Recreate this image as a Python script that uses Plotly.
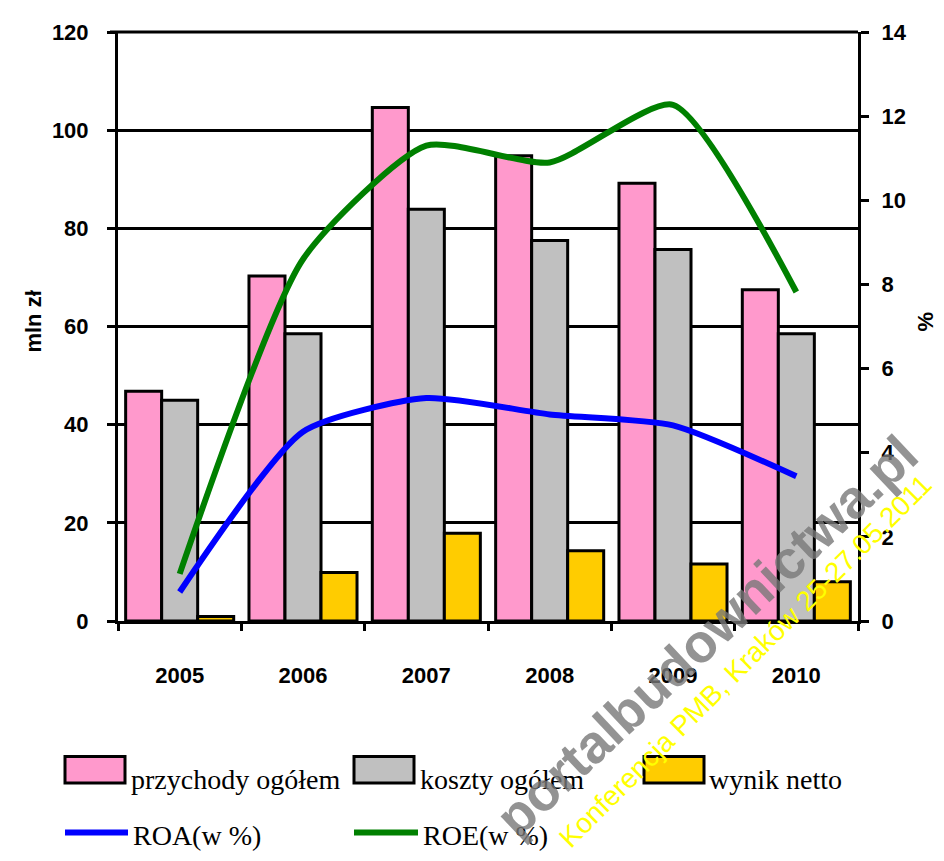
import plotly.graph_objects as go

# ---- data ----
years = ["2005", "2006", "2007", "2008", "2009", "2010"]
przychody = [46.8, 70.3, 104.6, 94.8, 89.2, 67.5]
koszty = [45.0, 58.5, 83.9, 77.5, 75.7, 58.5]
wynik = [0.9, 9.9, 17.9, 14.3, 11.6, 8.0]
roa = [0.69, 4.5, 5.3, 4.91, 4.65, 3.44]
roe = [1.12, 8.6, 11.3, 10.9, 12.27, 7.82]

bar_names = ["przychody ogółem", "koszty ogółem", "wynik netto"]
line_names = ["ROA(w %)", "ROE(w %)"]
bar_colors = ["#FF99CC", "#C0C0C0", "#FFCC00"]
line_colors = ["#0000FF", "#008000"]

left_ticks = [0, 20, 40, 60, 80, 100, 120]
right_ticks = [0, 2, 4, 6, 8, 10, 12, 14]

# ---- geometry (page pixels; the page body has an 8px margin) ----
OFF = 8
W, H = 944 - OFF, 861 - OFF
L, R, T, B = 118, 858, 25, 621   # plot area in page pixels


def px(x):
    return (x - L) / (R - L)


def py(y):
    return (B - y) / (B - T)


TICKFONT = dict(family="Liberation Sans, Arial, sans-serif", size=22, color="black", weight="bold")
LEGFONT = dict(family="Liberation Serif, Times New Roman, serif", size=28, color="black")

fig = go.Figure()

for name, vals, col in zip(bar_names, [przychody, koszty, wynik], bar_colors):
    fig.add_trace(go.Bar(x=years, y=vals, name=name, marker=dict(color=col, line=dict(color="black", width=3)),
                         yaxis="y", showlegend=False))

for name, vals, col in zip(line_names, [roa, roe], line_colors):
    fig.add_trace(go.Scatter(x=years, y=vals, name=name, mode="lines",
                             line=dict(color=col, width=6, shape="spline", smoothing=0.6),
                             yaxis="y2", showlegend=False))

shapes = []
annotations = []

# top gridline (at 120) with its tick stub
shapes.append(dict(type="line", xref="paper", yref="paper", x0=px(110), x1=1, y0=1, y1=1,
                   line=dict(color="black", width=3), layer="below"))

# custom legend
row1 = [(65, 125, 129), (354, 414, 418), (644, 704, 707)]
for (x0, x1, tx), name, col in zip(row1, bar_names, bar_colors):
    shapes.append(dict(type="rect", xref="paper", yref="paper", x0=px(x0), x1=px(x1), y0=py(785), y1=py(758),
                       fillcolor=col, line=dict(color="black", width=3)))
    annotations.append(dict(text=name, xref="paper", yref="paper", x=px(tx), y=py(781), xanchor="left",
                            yanchor="middle", showarrow=False, font=LEGFONT))
row2 = [(65, 128, 131), (354, 418, 421)]
for (x0, x1, tx), name, col in zip(row2, line_names, line_colors):
    shapes.append(dict(type="line", xref="paper", yref="paper", x0=px(x0), x1=px(x1), y0=py(835), y1=py(835),
                       line=dict(color=col, width=6)))
    annotations.append(dict(text=name, xref="paper", yref="paper", x=px(tx), y=py(838), xanchor="left",
                            yanchor="middle", showarrow=False, font=LEGFONT))

# axis titles
annotations.append(dict(text="mln zł", xref="paper", yref="paper", x=px(34), y=py(318), textangle=-90,
                        xanchor="center", yanchor="middle", showarrow=False, font=TICKFONT))
annotations.append(dict(text="%", xref="paper", yref="paper", x=px(926), y=py(318), textangle=-90,
                        xanchor="center", yanchor="middle", showarrow=False, font=TICKFONT))

# watermarks (kept inside the page)
annotations.append(dict(text="portalbudownictwa.pl", xref="paper", yref="paper", x=px(706), y=py(636),
                        xanchor="center", yanchor="middle", textangle=-43.3, showarrow=False,
                        font=dict(family="Liberation Sans, Arial, sans-serif", size=54, weight="bold",
                                  color="rgba(120,120,120,0.8)")))
annotations.append(dict(text="Konferencja PMB, Kraków 25-27.05.2011", xref="paper", yref="paper",
                        x=px(745), y=py(662), xanchor="center", yanchor="middle", textangle=-45,
                        showarrow=False,
                        font=dict(family="Liberation Sans, Arial, sans-serif", size=28, color="#FFFF00")))

fig.update_layout(
    width=W, height=H,
    margin=dict(l=L - OFF, r=W - (R - OFF), t=T - OFF, b=H - (B - OFF), pad=0),
    paper_bgcolor="white", plot_bgcolor="white",
    barmode="group", bargap=0.124, bargroupgap=0,
    shapes=shapes, annotations=annotations,
    xaxis=dict(type="category", showline=True, linecolor="black", linewidth=3,
               ticks="outside", tickson="boundaries", ticklen=7, tickwidth=3, tickcolor="black",
               tickfont=TICKFONT, ticklabelstandoff=33, showgrid=False, zeroline=False),
    yaxis=dict(range=[0, 120], tickvals=left_ticks, showline=True, linecolor="black", linewidth=3,
               ticks="outside", ticklen=8, tickwidth=3, tickcolor="black", tickfont=TICKFONT,
               ticklabelstandoff=14, showgrid=True, gridcolor="black", gridwidth=3, zeroline=False),
    yaxis2=dict(range=[0, 14], tickvals=right_ticks, overlaying="y", side="right", showline=True,
                linecolor="black", linewidth=3, ticks="outside", ticklen=8, tickwidth=3, tickcolor="black",
                tickfont=TICKFONT, ticklabelstandoff=8, showgrid=False, zeroline=False),
)

fig.write_html("out.html")
